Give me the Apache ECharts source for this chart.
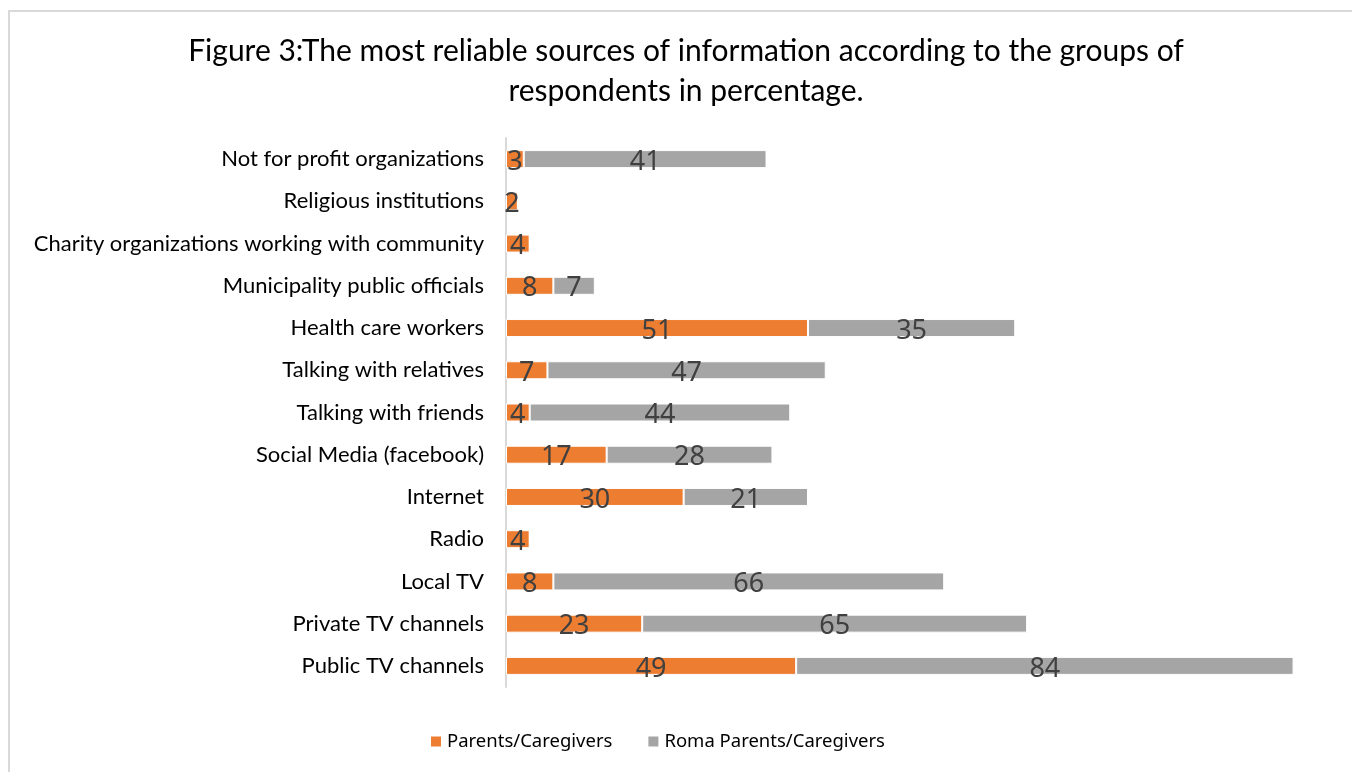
<!DOCTYPE html>
<html>
<head>
<meta charset="utf-8">
<script src="https://cdn.jsdelivr.net/npm/echarts@6/dist/echarts.min.js"></script>
<style>
  html, body { margin: 0; padding: 0; background: #fff; }
  #frame { position: absolute; left: 8px; top: 10px; width: 1360px; height: 780px; border: 2px solid #d9d9d9; box-sizing: border-box; }
  #chart { position: absolute; left: 0; top: 0; width: 1352px; height: 772px; }
</style>
</head>
<body>
<div id="frame"></div>
<div id="chart"></div>
<script>
// Sources of information, listed bottom to top as drawn on the category axis
const categories = [
  'Public TV channels',
  'Private TV channels',
  'Local TV',
  'Radio',
  'Internet',
  'Social Media (facebook)',
  'Talking with friends',
  'Talking with relatives',
  'Health care workers',
  'Municipality public officials',
  'Charity organizations working with community',
  'Religious institutions',
  'Not for profit organizations'
];
const parents = [49, 23, 8, 4, 30, 17, 4, 7, 51, 8, 4, 2, 3];
const romaParents = [84, 65, 66, 0, 21, 28, 44, 47, 35, 7, 0, 0, 41];
const seriesNames = ['Parents/Caregivers', 'Roma Parents/Caregivers'];

const chart = echarts.init(document.getElementById('chart'), null, { renderer: 'canvas' });

const labelStyle = {
  show: true,
  position: 'inside',
  offset: [0, 3],
  color: '#404040',
  fontFamily: 'Noto Sans',
  fontSize: 27,
  formatter: p => (p.value ? String(p.value) : '')
};

chart.setOption({
  backgroundColor: 'transparent',
  animation: false,
  title: {
    text: 'Figure 3:The most reliable sources of information according to the groups of\nrespondents in percentage.',
    left: 681,
    textAlign: 'center',
    top: 26,
    textStyle: {
      fontFamily: 'Lato',
      fontWeight: 'normal',
      fontSize: 30,
      color: '#000',
      lineHeight: 40
    }
  },
  legend: {
    top: 727,
    left: 424,
    itemWidth: 12,
    itemHeight: 12,
    itemGap: 34,
    icon: 'rect',
    textStyle: { fontFamily: 'Noto Sans', fontSize: 18.5, color: '#000' },
    data: seriesNames
  },
  grid: { left: 506, right: 17, top: 138, bottom: 85, containLabel: false },
  xAxis: {
    type: 'value',
    min: 0,
    max: 140,
    show: false
  },
  yAxis: {
    type: 'category',
    data: categories,
    axisLine: { show: true, lineStyle: { color: '#d9d9d9', width: 2 } },
    axisTick: { show: false },
    axisLabel: { margin: 22, color: '#000', fontFamily: 'Lato', fontSize: 22 }
  },
  series: [
    {
      name: seriesNames[0],
      type: 'bar',
      stack: 'total',
      data: parents,
      barWidth: 18,
      itemStyle: { color: '#ED7D31', borderColor: '#fff', borderWidth: 1 },
      label: labelStyle
    },
    {
      name: seriesNames[1],
      type: 'bar',
      stack: 'total',
      data: romaParents,
      barWidth: 18,
      itemStyle: { color: '#A5A5A5', borderColor: '#fff', borderWidth: 1 },
      label: labelStyle
    }
  ]
});
</script>
</body>
</html>
